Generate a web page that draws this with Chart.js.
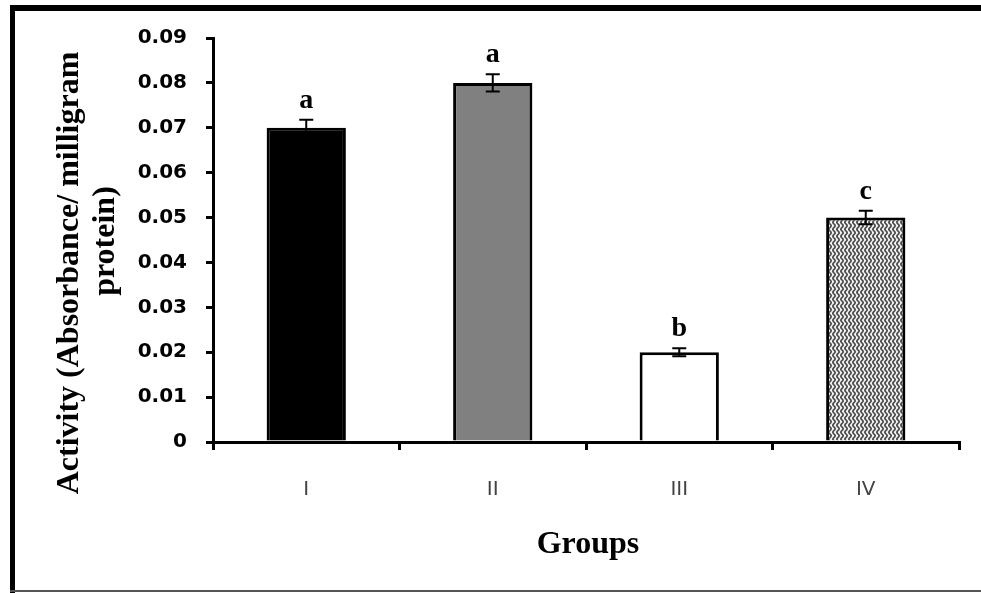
<!DOCTYPE html>
<html>
<head>
<meta charset="utf-8">
<script src="https://cdn.jsdelivr.net/npm/chart.js@4/dist/chart.umd.min.js"></script>
<style>
  html, body { margin: 0; padding: 0; background: #fff; }
  #wrap { width: 981px; height: 593px; position: relative; }
</style>
</head>
<body>
<div id="wrap"><canvas id="c" width="981" height="593"></canvas></div>
<script>
// ---- data ----
const categories = ['I', 'II', 'III', 'IV'];
const values = [0.07, 0.08, 0.02, 0.05];
const errors = [0.0018, 0.0019, 0.0009, 0.0015];
const letters = ['a', 'a', 'b', 'c'];
const yTickLabels = ['0', '0.01', '0.02', '0.03', '0.04', '0.05', '0.06', '0.07', '0.08', '0.09'];
const yTitleLines = ['Activity (Absorbance/ milligram', 'protein)'];
const xTitle = 'Groups';

// ---- style ----
function wavePattern() {
  const c = document.createElement('canvas');
  c.width = 4; c.height = 7;
  const g = c.getContext('2d');
  g.fillStyle = '#f2f2f2';
  g.fillRect(0, 0, 4, 7);
  g.strokeStyle = '#4a4a4a';
  g.lineWidth = 1.7;
  g.beginPath();
  for (let y = -1; y <= 8; y += 0.5) {
    const x = 2 + Math.sin(y / 7 * 2 * Math.PI) * 1.1;
    if (y === -1) g.moveTo(x, y); else g.lineTo(x, y);
  }
  g.stroke();
  return g.createPattern(c, 'repeat');
}
const fills = ['#000000', '#808080', '#ffffff', wavePattern()];

const decor = {
  id: 'decor',
  beforeDraw(chart) {
    const ctx = chart.ctx;
    ctx.save();
    ctx.fillStyle = '#fff';
    ctx.fillRect(0, 0, chart.width, chart.height);
    ctx.restore();
  },
  afterDraw(chart) {
    const ctx = chart.ctx;
    const y = chart.scales.y, x = chart.scales.x;
    ctx.save();
    // frame
    ctx.fillStyle = '#000';
    ctx.fillRect(10, 5, chart.width - 10, 6);
    ctx.fillRect(10, 5, 5, chart.height - 5);
    ctx.fillStyle = '#555';
    ctx.fillRect(10, 590, chart.width - 10, 2);
    // error bars + letters
    ctx.strokeStyle = '#000';
    ctx.lineWidth = 2;
    ctx.fillStyle = '#000';
    ctx.font = 'bold 28px "Liberation Serif"';
    ctx.textAlign = 'center';
    ctx.textBaseline = 'alphabetic';
    values.forEach((v, i) => {
      const px = x.getPixelForValue(i);
      const top = y.getPixelForValue(v + errors[i]);
      const bot = y.getPixelForValue(v - errors[i]);
      ctx.beginPath();
      ctx.moveTo(px, top); ctx.lineTo(px, bot);
      ctx.moveTo(px - 7, top); ctx.lineTo(px + 7, top);
      ctx.moveTo(px - 7, bot); ctx.lineTo(px + 7, bot);
      ctx.stroke();
      ctx.fillText(letters[i], px, top - 12);
    });
    // axis titles
    ctx.font = 'bold 32px "Liberation Serif"';
    ctx.textBaseline = 'middle';
    ctx.fillText(xTitle, 588, 545);
    ctx.save();
    ctx.translate(70, 273);
    ctx.rotate(-Math.PI / 2);
    ctx.fillText(yTitleLines[0], 0, 0);
    ctx.restore();
    ctx.save();
    ctx.translate(106, 241);
    ctx.rotate(-Math.PI / 2);
    ctx.fillText(yTitleLines[1], 0, 0);
    ctx.restore();
    ctx.restore();
  }
};

new Chart(document.getElementById('c'), {
  type: 'bar',
  data: {
    labels: categories,
    datasets: [{
      data: values,
      backgroundColor: fills,
      borderColor: '#000',
      borderWidth: 3,
      borderSkipped: 'bottom',
      barPercentage: 0.425,
      categoryPercentage: 1.0
    }]
  },
  options: {
    responsive: false,
    animation: false,
    devicePixelRatio: 1,
    layout: { padding: { top: 38, right: 22, left: 0, bottom: 0 } },
    plugins: { legend: { display: false }, tooltip: { enabled: false } },
    scales: {
      x: {
        afterFit(s) { s.height = 151; },
        grid: { drawOnChartArea: false, drawTicks: true, tickLength: 8, lineWidth: 3, color: '#000', offset: true },
        border: { color: '#000', width: 3 },
        ticks: { color: '#444', font: { family: 'DejaVu Sans', size: 20 }, padding: 28 }
      },
      y: {
        min: 0, max: 0.09,
        afterFit(s) { s.width = 213; },
        grid: { drawOnChartArea: false, drawTicks: true, tickLength: 7, lineWidth: 3, color: '#000' },
        border: { color: '#000', width: 3 },
        ticks: {
          stepSize: 0.01,
          color: '#000',
          padding: 19,
          font: { family: 'DejaVu Sans', size: 20, weight: 'bold' },
          callback: (v, i) => yTickLabels[i]
        }
      }
    }
  },
  plugins: [decor]
});
</script>
</body>
</html>
